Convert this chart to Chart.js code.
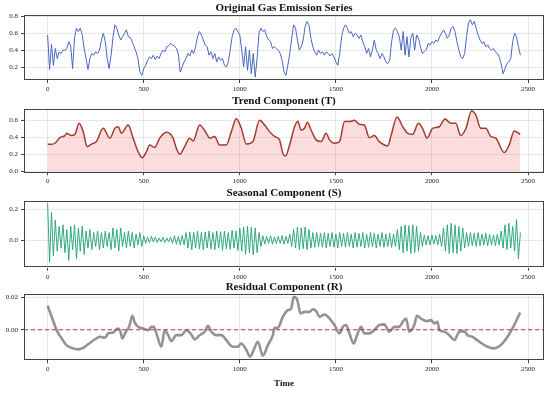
<!DOCTYPE html>
<html><head><meta charset="utf-8">
<script src="https://cdn.jsdelivr.net/npm/chart.js@4"></script>
<style>
html,body{margin:0;padding:0;background:#fff;width:550px;height:393px;overflow:hidden;}
.p{position:absolute;left:0;width:550px;}
</style></head><body>
<div class="p" style="top:0px;height:97px"><canvas id="c1"></canvas></div>
<div class="p" style="top:95px;height:95px"><canvas id="c2"></canvas></div>
<div class="p" style="top:187px;height:98px"><canvas id="c3"></canvas></div>
<div class="p" style="top:281px;height:112px"><canvas id="c4"></canvas></div>
<script>
// ---- data ----
const sampleStep = 10; // original & seasonal are sampled every 10 time units
const original = [
0.58,0.17,0.47,0.22,0.42,0.30,0.38,0.36,0.40,0.40,
0.42,0.50,0.45,0.18,0.55,0.66,0.62,0.66,0.58,0.42,
0.30,0.17,0.30,0.36,0.34,0.38,0.36,0.40,0.52,0.60,
0.50,0.30,0.18,0.34,0.55,0.70,0.66,0.58,0.52,0.56,
0.60,0.64,0.56,0.55,0.50,0.44,0.38,0.30,0.14,0.10,
0.18,0.22,0.28,0.32,0.30,0.34,0.29,0.33,0.30,0.36,
0.40,0.38,0.44,0.45,0.48,0.46,0.45,0.42,0.36,0.14,
0.20,0.26,0.30,0.36,0.33,0.40,0.36,0.44,0.56,0.62,
0.58,0.52,0.46,0.44,0.34,0.38,0.30,0.36,0.26,0.32,
0.28,0.30,0.22,0.20,0.26,0.40,0.56,0.64,0.66,0.62,
0.58,0.40,0.20,0.44,0.16,0.40,0.12,0.36,0.08,0.30,
0.60,0.66,0.62,0.64,0.56,0.52,0.50,0.42,0.44,0.42,
0.40,0.36,0.28,0.14,0.10,0.22,0.36,0.54,0.70,0.66,
0.52,0.40,0.44,0.52,0.68,0.74,0.70,0.54,0.44,0.38,
0.34,0.40,0.36,0.38,0.34,0.38,0.36,0.33,0.36,0.32,
0.26,0.22,0.36,0.56,0.66,0.70,0.66,0.60,0.62,0.56,
0.60,0.58,0.54,0.58,0.50,0.44,0.36,0.42,0.32,0.40,
0.52,0.40,0.36,0.30,0.36,0.32,0.26,0.24,0.28,0.50,
0.64,0.66,0.62,0.56,0.40,0.62,0.34,0.56,0.32,0.54,
0.60,0.40,0.58,0.54,0.44,0.36,0.38,0.40,0.48,0.46,
0.50,0.48,0.52,0.50,0.56,0.60,0.64,0.60,0.54,0.58,
0.66,0.68,0.62,0.50,0.40,0.32,0.30,0.36,0.56,0.72,
0.76,0.70,0.74,0.66,0.58,0.52,0.48,0.50,0.44,0.46,
0.42,0.40,0.42,0.38,0.36,0.32,0.24,0.12,0.18,0.24,
0.26,0.30,0.50,0.60,0.56,0.44,0.34];

const seasonal = [
0.24,-0.14,0.18,-0.10,0.13,-0.07,0.09,-0.05,0.10,-0.08,
0.07,-0.13,0.09,-0.06,0.10,-0.12,0.08,-0.07,0.09,-0.09,
0.06,-0.05,0.07,-0.06,0.05,-0.04,0.06,-0.06,0.05,-0.05,
0.06,-0.04,0.05,-0.06,0.08,-0.05,0.07,-0.07,0.08,-0.04,
0.05,-0.05,0.06,-0.04,0.05,-0.05,0.04,-0.03,0.05,-0.04,
0.03,-0.02,0.02,-0.015,0.025,-0.01,0.02,-0.015,0.015,-0.01,
0.02,-0.015,0.015,-0.01,0.02,-0.02,0.03,-0.025,0.025,-0.03,
0.03,-0.03,0.05,-0.05,0.055,-0.06,0.05,-0.05,0.06,-0.055,
0.05,-0.06,0.055,-0.05,0.06,-0.055,0.05,-0.06,0.06,-0.05,
0.055,-0.065,0.06,-0.055,0.05,-0.06,0.065,-0.05,0.06,-0.065,
0.08,-0.07,0.085,-0.09,0.09,-0.08,0.085,-0.095,0.08,-0.08,
0.05,-0.04,0.03,-0.025,0.025,-0.02,0.03,-0.025,0.02,-0.02,
0.025,-0.02,0.03,-0.025,0.025,-0.02,0.04,-0.04,0.07,-0.05,
0.085,-0.06,0.08,-0.055,0.085,-0.06,0.07,-0.05,0.05,-0.045,
0.05,-0.04,0.045,-0.045,0.05,-0.05,0.045,-0.04,0.05,-0.045,
0.04,-0.05,0.05,-0.04,0.045,-0.045,0.05,-0.04,0.04,-0.05,
0.05,-0.045,0.045,-0.04,0.05,-0.05,0.04,-0.045,0.05,-0.04,
0.045,-0.05,0.04,-0.04,0.05,-0.045,0.04,-0.04,0.045,-0.045,
0.04,-0.04,0.07,-0.06,0.09,-0.08,0.10,-0.07,0.095,-0.085,
0.10,-0.08,0.09,-0.07,0.05,-0.04,0.035,-0.03,0.03,-0.03,
0.035,-0.025,0.03,-0.03,0.04,-0.04,0.08,-0.07,0.10,-0.085,
0.11,-0.08,0.10,-0.085,0.09,-0.07,0.08,-0.05,0.05,-0.04,
0.05,-0.035,0.045,-0.04,0.05,-0.035,0.04,-0.03,0.045,-0.035,
0.04,-0.03,0.035,-0.035,0.04,-0.03,0.06,-0.05,0.10,-0.06,
0.11,-0.05,0.09,-0.07,0.135,-0.12,0.05];

const trendX = [0,21,38,64,90,98,124,142,164,185,206,228,254,289,324,350,367,384,419,445,471,493,514,531,557,583,618,653,670,687,713,739,757,791,826,843,869,895,930,956,982,1008,1034,1068,1103,1129,1155,1181,1207,1224,1238,1259,1285,1302,1319,1337,1351,1371,1397,1423,1449,1467,1493,1519,1545,1570,1596,1622,1648,1674,1700,1726,1770,1787,1818,1848,1874,1900,1929,1951,1974,2003,2038,2068,2099,2124,2150,2177,2206,2228,2254,2280,2306,2332,2376,2402,2428,2459];
const trendY = [0.32,0.318,0.33,0.396,0.42,0.447,0.42,0.435,0.565,0.467,0.29,0.32,0.35,0.506,0.39,0.506,0.525,0.45,0.545,0.39,0.23,0.16,0.23,0.31,0.28,0.39,0.46,0.39,0.27,0.2,0.29,0.39,0.357,0.545,0.447,0.39,0.41,0.31,0.31,0.467,0.62,0.506,0.32,0.35,0.6,0.545,0.467,0.41,0.37,0.21,0.18,0.31,0.525,0.59,0.486,0.506,0.576,0.486,0.37,0.35,0.447,0.37,0.33,0.35,0.585,0.585,0.6,0.553,0.545,0.396,0.42,0.35,0.3,0.42,0.64,0.525,0.447,0.435,0.565,0.506,0.39,0.506,0.525,0.616,0.565,0.565,0.42,0.506,0.71,0.663,0.506,0.506,0.41,0.39,0.22,0.31,0.475,0.435];

const resX = [0,21,47,73,98,133,159,194,228,254,272,298,315,341,367,379,389,407,424,441,453,471,497,523,540,552,566,592,609,627,644,670,696,722,748,765,791,817,834,852,878,904,930,947,964,990,1007,1034,1054,1072,1094,1120,1146,1172,1181,1198,1224,1250,1267,1281,1299,1316,1337,1363,1380,1397,1415,1441,1467,1493,1519,1536,1553,1570,1593,1610,1631,1648,1674,1700,1726,1752,1778,1804,1830,1848,1865,1882,1908,1922,1943,1969,1995,2012,2029,2038,2064,2090,2116,2142,2168,2185,2211,2246,2289,2324,2358,2393,2428,2459];
const resY = [0.0147,0.008,-0.0002,-0.0053,-0.0094,-0.0114,-0.012,-0.0104,-0.0073,-0.0053,-0.0043,-0.0049,-0.0022,-0.0016,0.0008,-0.0012,-0.0053,-0.0012,0.0018,0.0086,0.0045,0.0018,0.0008,-0.0002,0.0018,0.0018,-0.0022,-0.0104,-0.0002,-0.0033,-0.0069,-0.0033,-0.0033,-0.0002,-0.0029,-0.0059,-0.0033,-0.0012,0.0024,-0.0012,-0.0033,-0.0033,-0.0063,-0.009,-0.0104,-0.0104,-0.0084,-0.0124,-0.0165,-0.0124,-0.0073,-0.0159,-0.0094,-0.0033,0.0012,0.0012,0.008,0.012,0.0129,0.0202,0.0182,0.01,0.011,0.011,0.0126,0.0114,0.008,0.0094,0.0069,0.0029,-0.0022,0.0018,0.0029,-0.0022,-0.0084,-0.0033,0.0018,-0.0022,-0.0022,-0.0002,0.0029,0.0033,-0.0012,0.0018,0.0018,0.0049,0.0069,-0.0012,0.0029,0.0086,0.0069,0.0053,0.0059,0.0039,0.0049,-0.0002,-0.0012,-0.0033,-0.0063,-0.0012,-0.0008,-0.0033,-0.0043,-0.0073,-0.0104,-0.0114,-0.0094,-0.0043,0.0029,0.0106];

const xTicks = [0,500,1000,1500,2000,2500];
const yTicks1 = [0.2,0.4,0.6,0.8];
const yTicks2 = [0.0,0.2,0.4,0.6];
const yTicks3 = [0.0,0.2];
const yTicks4 = [0.00,0.02];

// ---- drawing ----
const FAM = "'Liberation Serif','Times New Roman',serif";
Chart.defaults.font.family = FAM;
const GRID = 'rgba(0,0,0,0.09)';

const frame = { id:'frame', afterDraw(chart){
  const {ctx, chartArea:a} = chart;
  ctx.save(); ctx.strokeStyle='#444'; ctx.lineWidth=1;
  ctx.strokeRect(Math.round(a.left)+0.5, Math.round(a.top)+0.5, Math.round(a.right-a.left)-1, Math.round(a.bottom-a.top)-1);
  ctx.restore();
}};
const zeroLine = { id:'zeroLine', afterDatasetsDraw(chart, args, opts){
  if(!opts.on) return;
  const {ctx, chartArea:a, scales} = chart;
  const y = scales.y.getPixelForValue(0);
  ctx.save(); ctx.strokeStyle='#c0392b'; ctx.lineWidth=1; ctx.setLineDash([4,3]);
  ctx.beginPath(); ctx.moveTo(a.left, y); ctx.lineTo(a.right, y); ctx.stroke(); ctx.restore();
}};

function pts(xs, ys){ return ys.map((v,i)=>({x:xs[i], y:v})); }
const time = original.map((_, i) => i * sampleStep);

function panel(id, cfg){
  const xScale = {
    type:'linear', min:-123, max:2583,
    afterBuildTicks: s => { s.ticks = xTicks.map(v=>({value:v})); },
    afterFit: s => { s.height = cfg.xh; },
    grid:{ color:GRID, tickColor:'#444', tickLength:3 },
    border:{ display:false },
    ticks:{ font:{size:7}, color:'#222', padding:2, maxRotation:0, autoSkip:false,
            callback: v => String(v) },
    title: cfg.xTitle ? { display:true, text:cfg.xTitle, color:'#111',
            font:{size:9, weight:'bold'}, padding:{top:0,bottom:3.6} } : {display:false}
  };
  const yScale = {
    type:'linear', min:cfg.ymin, max:cfg.ymax,
    afterBuildTicks: s => { s.ticks = cfg.yTicks.map(v=>({value:v})); },
    afterFit: s => { s.width = 24; },
    grid:{ color:GRID, tickColor:'#444', tickLength:3 },
    border:{ display:false },
    ticks:{ font:{size:7}, color:'#222', padding:3, autoSkip:false,
            callback: v => Number(v).toFixed(cfg.dec) }
  };
  return new Chart(document.getElementById(id), {
    type:'line',
    data:{ datasets: cfg.datasets },
    options:{
      responsive:true, maintainAspectRatio:false, animation:false,
      layout:{ padding:{left:0, right:6, top:0, bottom:0} },
      plugins:{
        legend:{display:false}, tooltip:{enabled:false},
        title:{ display:true, text:cfg.title, fullSize:false, color:'#111',
                font:{size:11, weight:'bold'}, padding:{top:cfg.tpt, bottom:cfg.tpb} },
        zeroLine:{ on: !!cfg.zero }
      },
      elements:{ point:{radius:0} },
      scales:{ x:xScale, y:yScale }
    },
    plugins:[frame, zeroLine]
  });
}

panel('c1', { title:'Original Gas Emission Series', tpt:1.5, tpb:0, xh:17,
  ymin:0.046, ymax:0.82, yTicks:yTicks1, dec:1,
  datasets:[{ data:pts(time, original), borderColor:'#4a67c4', borderWidth:1, tension:0 }] });

panel('c2', { title:'Trend Component (T)', tpt:0, tpb:0.5, xh:17.7,
  ymin:-0.012, ymax:0.737, yTicks:yTicks2, dec:1,
  datasets:[{ data:pts(trendX, trendY), borderColor:'#a33b2e', borderWidth:1.5,
    cubicInterpolationMode:'monotone', fill:'origin', backgroundColor:'rgba(240,100,100,0.22)' }] });

panel('c3', { title:'Seasonal Component (S)', tpt:0, tpb:1.1, xh:17.3,
  ymin:-0.177, ymax:0.252, yTicks:yTicks3, dec:1,
  datasets:[{ data:pts(time, seasonal), borderColor:'#20a079', borderWidth:0.9, tension:0 }] });

panel('c4', { title:'Residual Component (R)', tpt:0, tpb:0, xh:32.7, xTitle:'Time', zero:true,
  ymin:-0.0187, ymax:0.0218, yTicks:yTicks4, dec:2,
  datasets:[{ data:pts(resX, resY), borderColor:'rgba(120,120,120,0.8)', borderWidth:2.6,
    cubicInterpolationMode:'monotone' }] });
</script>
</body></html>
